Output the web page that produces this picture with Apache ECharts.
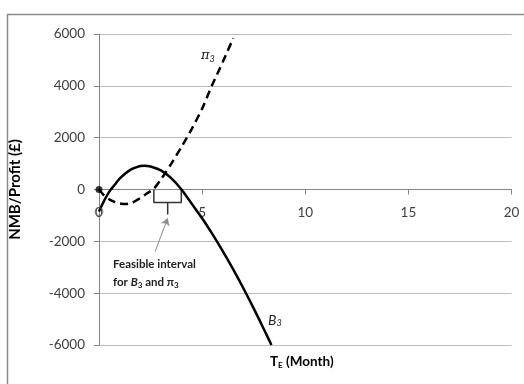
<!DOCTYPE html>
<html><head><meta charset="utf-8">
<script src="https://cdn.jsdelivr.net/npm/echarts/dist/echarts.min.js"></script>
<style>html,body{margin:0;padding:0;background:#fff}#c{width:524px;height:384px}</style>
</head><body><div id="c"></div>
<script>
// x-axis: T_E (Month); y-axis: NMB/Profit (£)
const xMin = 0, xMax = 20, xStep = 5;
const yMin = -6000, yMax = 6000, yStep = 2000;

// B3 (solid curve)
const b3X = [0, 0.25, 0.5, 0.75, 1.0, 1.5, 2.0, 2.2, 2.5, 3.0, 3.5, 4.0, 4.5, 5.0, 5.5, 6.0, 6.5, 7.0, 7.5, 8.0, 8.36];
const b3Y = [-850, -430, -80, 170, 420, 750, 905, 920, 890, 740, 440, 0, -555, -1110, -1725, -2380, -3075, -3810, -4585, -5400, -6000];

// pi3 (dashed curve)
const pi3X = [0, 0.25, 0.5, 0.75, 1.0, 1.3, 1.6, 2.0, 2.3, 2.66, 3.0, 3.19, 3.5, 4.0, 4.26, 4.5, 5.0, 5.47, 6.0, 6.51];
const pi3Y = [0, -230, -380, -475, -535, -560, -515, -330, -165, 30, 390, 610, 990, 1640, 2000, 2340, 3120, 4000, 4920, 5840];

// feasible interval bracket (data units)
const feasibleFrom = 2.66, feasibleTo = 3.99, feasibleMid = 3.33;
const braceDepth = -500, stemEnd = -960;
const arrowFrom = [2.72, -2390], arrowTo = [3.33, -1110];

const pairs = (xs, ys) => xs.map((x, i) => [x, ys[i]]);

const gridTop = 34, gridHeight = 311;
// place the x axis on y = 0
const xAxisOffset = -gridHeight * (0 - yMin) / (yMax - yMin);

const chart = echarts.init(document.getElementById('c'));
const labelColor = '#404040';
chart.setOption({
  animation: false,
  backgroundColor: '#fff',
  grid: { left: 96.5, top: gridTop, width: 415, height: gridHeight, containLabel: false },
  xAxis: {
    type: 'value', min: xMin, max: xMax, interval: xStep, position: 'bottom', offset: xAxisOffset,
    axisLine: { onZero: false, lineStyle: { color: '#868686', width: 1 } },
    axisTick: { show: true, length: 5, lineStyle: { color: '#868686' } },
    axisLabel: { margin: 16, color: labelColor, fontFamily: 'Lato', fontSize: 13.5, formatter: v => String(v) },
    splitLine: { show: false }
  },
  yAxis: {
    type: 'value', min: yMin, max: yMax, interval: yStep,
    name: 'NMB/Profit (£)', nameLocation: 'middle', nameGap: 76,
    nameTextStyle: { fontFamily: 'Lato', fontWeight: 'bold', fontSize: 15, color: '#000' },
    axisLine: { show: true, onZero: false, lineStyle: { color: '#868686', width: 1 } },
    axisTick: { show: true, length: 5, lineStyle: { color: '#868686' } },
    axisLabel: { margin: 14, color: labelColor, fontFamily: 'Lato', fontSize: 13.5, formatter: v => String(v) },
    splitLine: { show: true, lineStyle: { color: '#bcbcbc', width: 1 } }
  },
  series: [
    { type: 'line', name: 'B3', data: pairs(b3X, b3Y), smooth: 0.25, showSymbol: false,
      lineStyle: { color: '#000', width: 2.5 }, z: 5 },
    { type: 'line', name: 'pi3', data: pairs(pi3X, pi3Y), smooth: 0.25, showSymbol: false,
      lineStyle: { color: '#000', width: 2.5, type: [8, 5] }, z: 5 },
    { type: 'scatter', data: [[pi3X[0], pi3Y[0]]], symbol: 'circle', symbolSize: 7,
      itemStyle: { color: '#000' }, z: 6 },
    { type: 'scatter', data: [[b3X[0], b3Y[0]]], symbol: 'circle', symbolSize: 8,
      itemStyle: { color: 'rgba(0,0,0,0)', borderColor: '#666', borderWidth: 1 }, z: 6 },
    { type: 'line', data: [[feasibleFrom, 0], [feasibleFrom, braceDepth], [feasibleTo, braceDepth], [feasibleTo, 0]],
      showSymbol: false, lineStyle: { color: '#333', width: 1.5 }, z: 4 },
    { type: 'line', data: [[feasibleMid, braceDepth], [feasibleMid, stemEnd]],
      showSymbol: false, lineStyle: { color: '#333', width: 1.5 }, z: 4 },
    { type: 'lines', coordinateSystem: 'cartesian2d', data: [{ coords: [arrowFrom, arrowTo] }],
      symbol: ['none', 'arrow'], symbolSize: [0, 7],
      lineStyle: { color: '#8c8c8c', width: 1, opacity: 1, curveness: 0 }, z: 4 }
  ],
  graphic: [
    { type: 'rect', silent: true, z: -1, shape: { x: 7.5, y: 14.5, width: 560, height: 420 },
      style: { fill: 'none', stroke: '#8a8a8a', lineWidth: 1.5 } },
    { type: 'text', x: 270, y: 362, silent: true, style: {
        text: '{t|T}{s|E}{t| (Month)}', verticalAlign: 'middle',
        rich: { t: { fontFamily: 'Lato', fontWeight: 'bold', fontSize: 13.5, fill: '#000', color: '#000' },
                s: { fontFamily: 'Lato', fontWeight: 'bold', fontSize: 8, fill: '#000', color: '#000', padding: [7, 0, 0, 0] } } } },
    { type: 'text', x: 201, y: 56, silent: true, style: {
        text: '{t|π}{s|3}', verticalAlign: 'middle',
        rich: { t: { fontFamily: 'DejaVu Serif', fontStyle: 'italic', fontSize: 13, fill: '#222', color: '#222' },
                s: { fontFamily: 'Lato', fontStyle: 'italic', fontSize: 9, fill: '#222', color: '#222', padding: [6, 0, 0, 0] } } } },
    { type: 'text', x: 268, y: 320, silent: true, style: {
        text: '{t|B}{s|3}', verticalAlign: 'middle',
        rich: { t: { fontFamily: 'Lato', fontStyle: 'italic', fontSize: 14, fill: '#222', color: '#222' },
                s: { fontFamily: 'Lato', fontStyle: 'italic', fontSize: 9, fill: '#222', color: '#222', padding: [7, 0, 0, 0] } } } },
    { type: 'text', x: 113, y: 264, silent: true, style: {
        text: 'Feasible interval', verticalAlign: 'middle',
        font: 'bold 11.5px Lato', fill: '#222' } },
    { type: 'text', x: 113, y: 282, silent: true, style: {
        text: '{t|for }{i|B}{s|3}{t| and π}{s|3}', verticalAlign: 'middle',
        rich: { t: { fontFamily: 'Lato', fontWeight: 'bold', fontSize: 11.5, fill: '#222', color: '#222' },
                i: { fontFamily: 'Lato', fontWeight: 'bold', fontStyle: 'italic', fontSize: 11.5, fill: '#222', color: '#222' },
                s: { fontFamily: 'Lato', fontWeight: 'bold', fontSize: 8, fill: '#222', color: '#222', padding: [6, 0, 0, 0] } } } }
  ]
});
</script></body></html>
